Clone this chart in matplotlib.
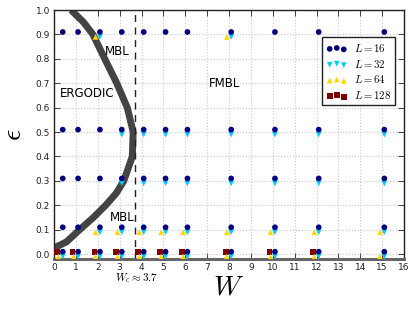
import matplotlib
matplotlib.use("Agg")
import matplotlib.pyplot as plt
import numpy as np

plt.rcParams['mathtext.fontset'] = 'cm'
plt.rcParams['font.family'] = ['DejaVu Sans']

# Data
W_all = [0.3, 1, 2, 3, 4, 5, 6, 8, 10, 12, 15]
# L=16: every W at every epsilon
L16_W = W_all * 5
L16_eps = [0.9] * 11 + [0.5] * 11 + [0.3] * 11 + [0.1] * 11 + [0.0] * 11
# L=32
L32_W = [2, 8] + [3, 4, 5, 6, 8, 10, 12, 15] * 2 + [2, 3, 4, 5, 6, 8, 10, 12, 15] + W_all
L32_eps = [0.9] * 2 + [0.5] * 8 + [0.3] * 8 + [0.1] * 9 + [0.0] * 11
# L=64
L64_W = [2, 8] + [2, 3, 4, 5, 6, 8, 10, 12, 15] + W_all
L64_eps = [0.9] * 2 + [0.1] * 9 + [0.0] * 11
# L=128
L128_W = [0.3, 1, 2, 3, 4, 5, 6, 8, 10, 12]
L128_eps = [0.0] * 10

# phase boundary
bound_W = [0.0, 0.57, 1.17, 1.8, 2.36, 2.85, 3.19, 3.58, 3.62, 3.35, 2.87, 2.32, 1.78, 1.35, 0.78]
bound_eps = [0.025, 0.05, 0.1, 0.15, 0.2, 0.25, 0.3, 0.4, 0.5, 0.6, 0.7, 0.8, 0.9, 0.95, 1.0]
Wc = 3.7

fig = plt.figure(figsize=(4.16, 3.09), dpi=100)
ax = fig.add_axes([0.1298, 0.1618, 0.9712 - 0.1298, 0.9676 - 0.1618])

ax.plot(bound_W, bound_eps, color='#444444', lw=5, solid_capstyle='butt', zorder=2)
ax.axvline(Wc, color='#222222', ls='--', lw=1, dashes=(5, 4), zorder=2)

ms = 17
ax.scatter(np.array(L16_W) + 0.1, np.array(L16_eps) + 0.01, s=ms, marker='o', color='#000080',
           edgecolors='none', label=r'$L=16$', zorder=6)
ax.scatter(np.array(L32_W) + 0.1, np.array(L32_eps) - 0.01, s=ms, marker='v', color='#00ccff',
           edgecolors='none', label=r'$L=32$', zorder=5)
ax.scatter(np.array(L64_W) - 0.1, np.array(L64_eps) - 0.01, s=ms, marker='^', color='#ffd700',
           edgecolors='none', label=r'$L=64$', zorder=4)
ax.scatter(np.array(L128_W) - 0.15, np.array(L128_eps) + 0.01, s=ms, marker='s', color='#800000',
           edgecolors='none', label=r'$L=128$', zorder=3)

ax.set_xlim(0, 16)
ax.set_ylim(-0.02, 1.0)
ax.set_xticks(np.arange(0, 17, 1))
ax.set_yticks(np.arange(0, 1.01, 0.1))
ax.set_yticklabels(['%.1f' % v for v in np.arange(0, 1.01, 0.1)])
ax.tick_params(direction='in', top=True, right=True, labelsize=6.5, length=4, width=0.6, pad=3, colors='#222222')
ax.grid(True, color='#c8c8c8', ls=':', lw=0.8)
ax.set_axisbelow(True)

for s in ['left', 'right', 'top']:
    ax.spines[s].set_color('#222222')
    ax.spines[s].set_linewidth(1.0)
ax.spines['bottom'].set_color('#666666')
ax.spines['bottom'].set_linewidth(2.2)

ax.set_xlabel(r'$W$', fontsize=20, labelpad=0)
ax.set_ylabel(r'$\epsilon$', fontsize=20, labelpad=6)

ax.text(2.9, 0.83, 'MBL', fontsize=8.5, ha='center', va='center')
ax.text(1.5, 0.66, 'ERGODIC', fontsize=8.5, ha='center', va='center')
ax.text(7.8, 0.70, 'FMBL', fontsize=8.5, ha='center', va='center')
ax.text(3.1, 0.15, 'MBL', fontsize=8.5, ha='center', va='center')
ax.text(3.78, -0.1, r'$W_c\approx 3.7$', fontsize=8, ha='center', va='center')

leg = ax.legend(loc='upper right', bbox_to_anchor=(0.975, 0.89), scatterpoints=3,
                scatteryoffsets=[0.375, 0.5, 0.3125], fontsize=7.8, frameon=True,
                fancybox=False, edgecolor='#222222', framealpha=1, borderpad=0.4,
                labelspacing=0.35, handlelength=1.9, handletextpad=0.6, borderaxespad=0)
leg.get_frame().set_linewidth(1.0)

fig.savefig('out.png', dpi=100)
